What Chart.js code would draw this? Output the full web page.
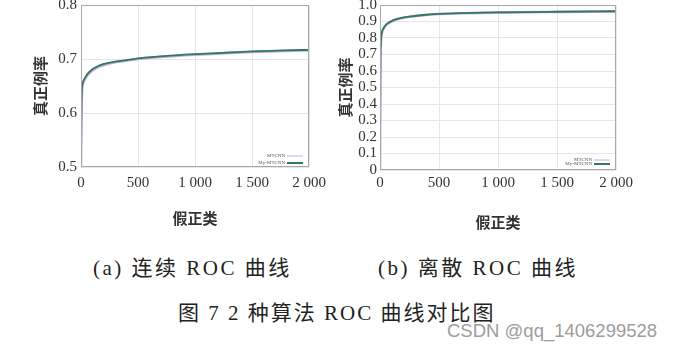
<!DOCTYPE html>
<html>
<head>
<meta charset="utf-8">
<script src="https://cdn.jsdelivr.net/npm/chart.js@4.4.1/dist/chart.umd.min.js"></script>
<style>
  html, body { margin: 0; padding: 0; background: #fff; }
  body { width: 673px; height: 351px; position: relative; overflow: hidden; }
  canvas { position: absolute; top: 0; }
  .cap { position: absolute; white-space: nowrap; color: #222;
         font-family: "Liberation Serif", "Noto Sans CJK SC", serif; }
  #wm { position: absolute; white-space: nowrap; color: #9c9c9c;
        font-family: "Liberation Sans", "DejaVu Sans", sans-serif; font-size: 18.5px; }
</style>
</head>
<body>
<canvas id="c1" width="330" height="240" style="left:0px"></canvas>
<canvas id="c2" width="343" height="240" style="left:330px"></canvas>
<div class="cap" id="capA" style="left:93px; top:251px; font-size:21px; letter-spacing:2.5px;">(a) 连续 ROC 曲线</div>
<div class="cap" id="capB" style="left:378px; top:251px; font-size:21px; letter-spacing:2.5px;">(b) 离散 ROC 曲线</div>
<div class="cap" id="capF" style="left:178px; top:296px; font-size:21px; letter-spacing:2px;">图 7 2 种算法 ROC 曲线对比图</div>
<div id="wm" style="left:447px; top:320px;">CSDN @qq_1406299528</div>
<script>
// ---- data ----
const seriesNames = ['MTCNN', 'My-MTCNN'];
const xTickValues = [0, 500, 1000, 1500, 2000];
const xTickLabels = ['0', '500', '1 000', '1 500', '2 000'];
const xAxisTitle = '假正类';
const yAxisTitle = '真正例率';

// (a) continuous ROC
const contFP      = [0, 3, 6, 10, 20, 40, 60, 100, 150, 200, 300, 400, 500, 700, 1000, 1300, 1500, 1800, 2000];
const contMTCNN   = [0.50, 0.58, 0.625, 0.645, 0.656, 0.665, 0.671, 0.679, 0.685, 0.689, 0.694, 0.697, 0.700, 0.704, 0.708, 0.711, 0.713, 0.715, 0.716];
const contMyMTCNN = [0.50, 0.59, 0.630, 0.648, 0.658, 0.667, 0.673, 0.681, 0.687, 0.691, 0.695, 0.698, 0.701, 0.705, 0.709, 0.712, 0.714, 0.716, 0.717];
const contYTicks  = [0.5, 0.6, 0.7, 0.8];
const contYLabels = ['0.5', '0.6', '0.7', '0.8'];

// (b) discrete ROC
const discFP      = [0, 3, 8, 15, 30, 50, 80, 120, 170, 250, 350, 500, 700, 1000, 1500, 2000];
const discMTCNN   = [0, 0.58, 0.77, 0.825, 0.857, 0.877, 0.893, 0.908, 0.918, 0.929, 0.937, 0.945, 0.950, 0.954, 0.958, 0.961];
const discMyMTCNN = [0, 0.60, 0.78, 0.830, 0.860, 0.880, 0.895, 0.910, 0.920, 0.930, 0.938, 0.946, 0.951, 0.955, 0.959, 0.962];
const discYTicks  = [0, 0.1, 0.2, 0.3, 0.4, 0.5, 0.6, 0.7, 0.8, 0.9, 1.0];
const discYLabels = ['0', '0.1', '0.2', '0.3', '0.4', '0.5', '0.6', '0.7', '0.8', '0.9', '1.0'];

const seriesColors = ['#c9a6e8', '#2f7a5a'];
const seriesWidths = [2.6, 1.8];

// ---- helpers ----
const pts = (xs, ys) => xs.map((x, i) => ({ x: x, y: ys[i] }));

const frameAndLegend = {
  id: 'frameAndLegend',
  afterDatasetsDraw(chart, args, opts) {
    const { ctx, chartArea: a } = chart;
    ctx.save();
    ctx.strokeStyle = '#a8a8a8';
    ctx.lineWidth = 1;
    ctx.strokeRect(a.left + 0.5, a.top + 0.5, a.right - a.left - 1, a.bottom - a.top - 1);
    // small legend inside plot, bottom right
    ctx.font = '5px "Liberation Serif"';
    ctx.textAlign = 'right';
    ctx.textBaseline = 'middle';
    chart.data.datasets.forEach((ds, i) => {
      const y = a.bottom - opts.rowBottom + (i - 1) * opts.rowGap;
      ctx.fillStyle = '#555';
      ctx.fillText(ds.label, a.right - 24, y);
      ctx.strokeStyle = ds.borderColor;
      ctx.lineWidth = i === 0 ? 1 : 2;
      ctx.beginPath();
      ctx.moveTo(a.right - 22, y);
      ctx.lineTo(a.right - 6, y);
      ctx.stroke();
    });
    ctx.restore();
  }
};

function makeChart(id, xs, ys1, ys2, yMin, yMax, yTicks, yLabels, L) {
  const setTicks = (vals) => (s) => { s.ticks = vals.map(v => ({ value: v })); };
  return new Chart(document.getElementById(id), {
    type: 'line',
    data: {
      datasets: [
        { label: seriesNames[0], data: pts(xs, ys1), borderColor: seriesColors[0], borderWidth: seriesWidths[0], order: 2 },
        { label: seriesNames[1], data: pts(xs, ys2), borderColor: seriesColors[1], borderWidth: seriesWidths[1], order: 1 }
      ]
    },
    options: {
      responsive: false,
      animation: false,
      events: [],
      layout: { padding: { left: 0, top: 5, right: L.padRight, bottom: 0 } },
      elements: { point: { radius: 0 }, line: { cubicInterpolationMode: 'monotone', fill: false } },
      plugins: {
        legend: { display: false },
        tooltip: { enabled: false },
        frameAndLegend: { rowBottom: L.legBottom, rowGap: L.legGap }
      },
      scales: {
        x: {
          type: 'linear', min: 0, max: 2000,
          afterBuildTicks: setTicks(xTickValues),
          afterFit: (s) => { s.height = L.xHeight; s.paddingLeft = 0; s.paddingRight = 0; },
          grid: { color: '#e6e6e6', drawTicks: false },
          border: { display: false },
          ticks: {
            padding: L.xTickPad, color: '#333', maxRotation: 0, autoSkip: false,
            font: { family: '"Liberation Serif"', size: 15 },
            callback: (v, i) => xTickLabels[i]
          },
          title: {
            display: true, text: xAxisTitle, color: '#333',
            font: { family: '"Noto Sans CJK SC"', size: 15, weight: 'bold' },
            padding: { top: 0, bottom: L.xTitlePad }
          }
        },
        y: {
          type: 'linear', min: yMin, max: yMax,
          afterBuildTicks: setTicks(yTicks),
          afterFit: (s) => { s.width = L.yWidth; s.paddingTop = 0; s.paddingBottom = 0; },
          grid: { color: '#e6e6e6', drawTicks: false },
          border: { display: false },
          ticks: {
            padding: L.yTickPad, color: '#333', autoSkip: false,
            font: { family: '"Liberation Serif"', size: 15 },
            callback: (v, i) => yLabels[i]
          },
          title: {
            display: true, text: yAxisTitle, color: '#333',
            font: { family: '"Noto Sans CJK SC"', size: 15, weight: 'bold' },
            padding: { top: L.yTitlePad, bottom: 0 }
          }
        }
      }
    },
    plugins: [frameAndLegend]
  });
}

makeChart('c1', contFP, contMTCNN, contMyMTCNN, 0.5, 0.8, contYTicks, contYLabels,
  { padRight: 21, xHeight: 73, yWidth: 81, xTickPad: 7, yTickPad: 4, xTitlePad: 13, yTitlePad: 31, legBottom: 4, legGap: 7 });
makeChart('c2', discFP, discMTCNN, discMyMTCNN, 0, 1.0, discYTicks, discYLabels,
  { padRight: 57, xHeight: 70, yWidth: 50, xTickPad: 4, yTickPad: 3, xTitlePad: 9, yTitlePad: 6, legBottom: 6, legGap: 4 });
</script>
</body>
</html>
